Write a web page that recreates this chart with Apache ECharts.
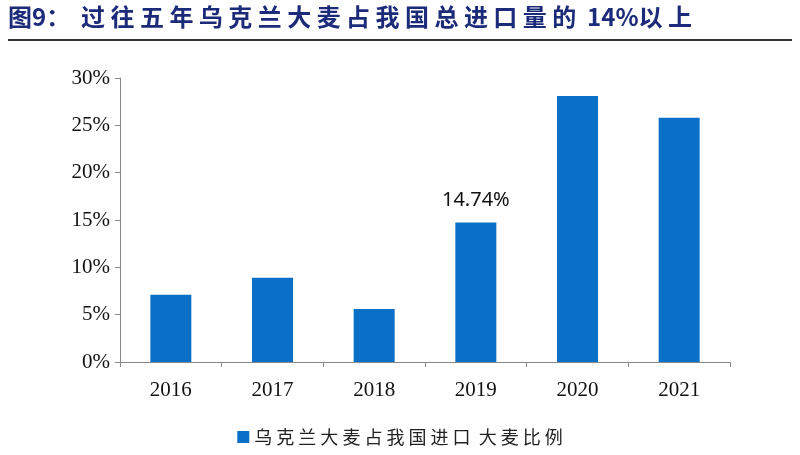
<!DOCTYPE html>
<html><head><meta charset="utf-8">
<script src="https://cdn.jsdelivr.net/npm/echarts@6/dist/echarts.min.js"></script>
<style>html,body{margin:0;background:#fff}#c{width:800px;height:455px}</style>
</head><body><div id="c"></div>
<script>
const categories=['2016','2017','2018','2019','2020','2021'];
const shareValues=[7.1,8.9,5.6,14.74,28.1,25.8];
const yTicks=[0,5,10,15,20,25,30];
const chart=echarts.init(document.getElementById('c'));
chart.setOption({
  animation:false,
  graphic:[
    {type:'text',left:8,top:5,style:{text:'图9：  过 往 五 年 乌 克 兰 大 麦 占 我 国 总 进 口 量 的  14%以 上',font:'bold 24px "Noto Sans CJK SC"',fill:'#1c2a7a'}},
    {type:'rect',shape:{x:8,y:39,width:784,height:2},style:{fill:'#333'}}
  ],
  grid:{left:120,right:70,top:78,bottom:93},
  legend:{bottom:4,left:'center',itemWidth:12,itemHeight:12,icon:'rect',textStyle:{fontFamily:'Noto Sans CJK SC',fontSize:18,color:'#222'},
    formatter:()=>'乌 克 兰 大 麦 占 我 国 进 口  大 麦 比 例'},
  xAxis:{type:'category',data:categories,axisLine:{lineStyle:{color:'#888'}},axisTick:{show:true,lineStyle:{color:'#888'}},
    axisLabel:{fontFamily:'Liberation Serif',fontSize:21,color:'#111',margin:18}},
  yAxis:{type:'value',min:0,max:30,interval:5,splitLine:{show:false},axisLine:{show:true,lineStyle:{color:'#888'}},axisTick:{show:true,lineStyle:{color:'#888'}},
    axisLabel:{formatter:'{value}%',fontFamily:'Liberation Serif',fontSize:21,color:'#111',margin:10}},
  series:[{name:'乌克兰大麦占我国进口大麦比例',type:'bar',data:shareValues.map((v,i)=>i===3?{value:v,label:{show:true,position:'top',formatter:'14.74%',fontFamily:'Noto Sans',fontSize:20,color:'#111',distance:12}}:v),
    barWidth:41,itemStyle:{color:'#0a6fc6'}}]
});
</script></body></html>
